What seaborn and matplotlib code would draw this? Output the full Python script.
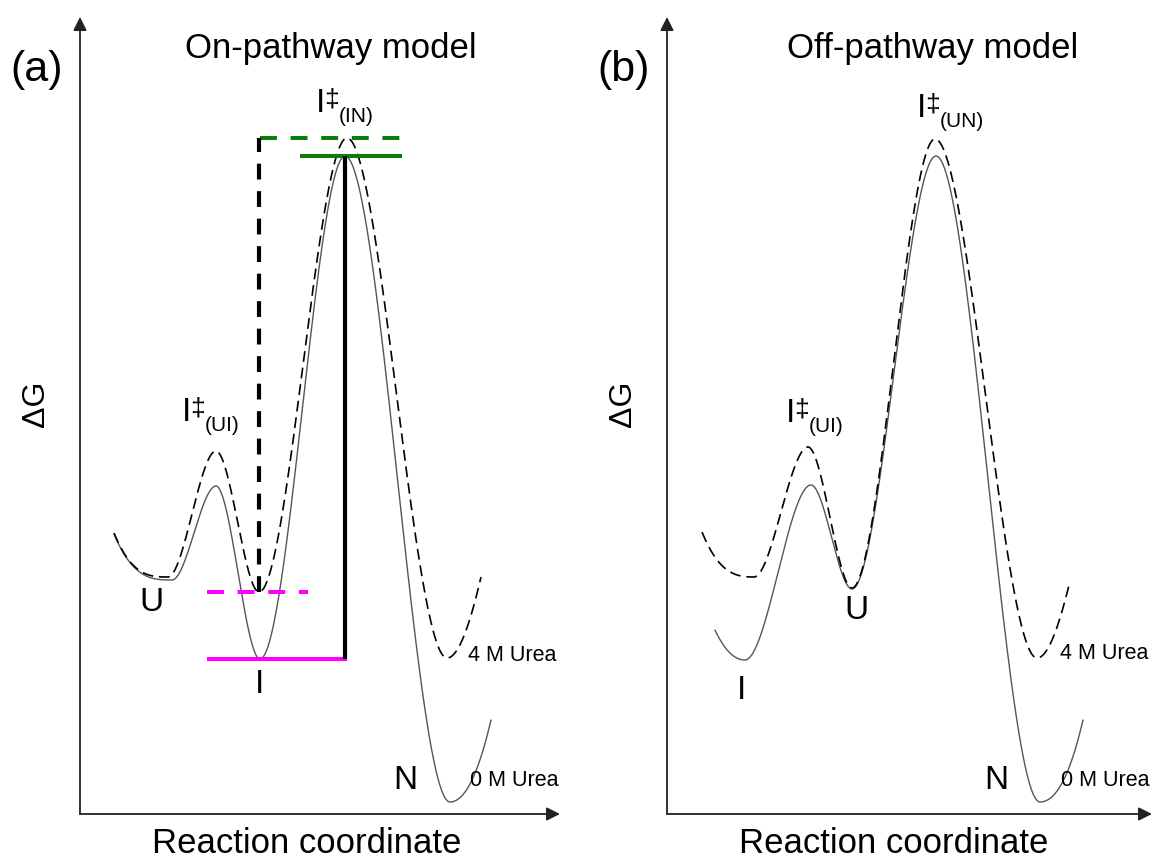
import numpy as np
import matplotlib
matplotlib.use("Agg")
import matplotlib.pyplot as plt
import seaborn as sns

# Free-energy landmarks along the reaction coordinate (arbitrary units).
# Each curve passes through its minima and barrier tops in order.
on_x_0M = [34, 92, 136, 180, 265, 370, 411]
on_g_0M = [280, 234, 328, 155, 658, 12, 94]
on_x_4M = [34, 88, 136, 179, 267, 367, 401]
on_g_4M = [281, 237, 363, 222, 676, 156, 237]

off_x_0M = [48, 78, 144, 185, 269, 373, 416]
off_g_0M = [184, 154, 329, 225, 658, 12, 94]
off_x_4M = [35, 87, 141, 185, 268, 370, 403]
off_g_4M = [282, 237, 367, 226, 675, 156, 233]

# index of the intermediate well and of the I-N barrier in the on-pathway curves
I_WELL, IN_TOP = 3, 4

panel_titles = ["On-pathway model", "Off-pathway model"]
panel_tags = ["(a)", "(b)"]


def pchip(xk, yk, xs):
    """Shape-preserving piecewise cubic Hermite curve through the landmarks."""
    xk = np.asarray(xk, float)
    yk = np.asarray(yk, float)
    h = np.diff(xk)
    d = np.diff(yk) / h
    n = len(xk)
    m = np.zeros(n)
    for k in range(1, n - 1):
        if d[k - 1] * d[k] > 0:
            w1 = 2 * h[k] + h[k - 1]
            w2 = h[k] + 2 * h[k - 1]
            m[k] = (w1 + w2) / (w1 / d[k - 1] + w2 / d[k])

    def end_slope(h0, h1, d0, d1):
        s = ((2 * h0 + h1) * d0 - h0 * d1) / (h0 + h1)
        if np.sign(s) != np.sign(d0):
            return 0.0
        if np.sign(d0) != np.sign(d1) and abs(s) > 3 * abs(d0):
            return 3 * d0
        return s

    m[0] = end_slope(h[0], h[1], d[0], d[1])
    m[-1] = end_slope(h[-1], h[-2], d[-1], d[-2])
    idx = np.clip(np.searchsorted(xk, xs) - 1, 0, n - 2)
    t = (xs - xk[idx]) / h[idx]
    h00 = 2 * t**3 - 3 * t**2 + 1
    h10 = t**3 - 2 * t**2 + t
    h01 = -2 * t**3 + 3 * t**2
    h11 = t**3 - t**2
    return (h00 * yk[idx] + h10 * h[idx] * m[idx]
            + h01 * yk[idx + 1] + h11 * h[idx] * m[idx + 1])


def energy_curve(ax, xk, gk, **kw):
    xs = np.linspace(xk[0], xk[-1], 600)
    sns.lineplot(x=xs, y=pchip(xk, gk, xs), ax=ax, sort=False,
                 estimator=None, **kw)


def barrier_label(ax, x, base, sub):
    """Transition-state label: I, a raised double dagger, a lowered subscript."""
    ax.text(x, base, "I", fontsize=24, ha="left", va="baseline")
    ax.text(x + 8, base + 6, "\u2021", fontsize=19, ha="left", va="baseline")
    ax.text(x + 23, base - 10, sub, fontsize=15, ha="left", va="baseline")


sns.set_theme(style="white")
plt.rcParams["font.family"] = ["Liberation Sans", "DejaVu Sans"]
plt.rcParams["text.color"] = "black"

W, H = 1155, 863
fig = plt.figure(figsize=(W / 100, H / 100), dpi=100)
fig.patch.set_facecolor("white")

# axes boxes in pixels: left, right, bottom, top
boxes = [(80, 560, 814, 17), (667, 1152, 814, 17)]
axes = []
for (l, r, b, t) in boxes:
    ax = fig.add_axes([l / W, 1 - b / H, (r - l) / W, (b - t) / H])
    ax.set_xlim(0, r - l)
    ax.set_ylim(0, b - t)
    ax.axis("off")
    axes.append(ax)

SOLID = dict(color="#555555", lw=1.0)
DASHED = dict(color="black", lw=1.2, linestyle=(0, (6.5, 3.5)))

for ax, tag in zip(axes, panel_tags):
    # axis arrows
    for end in [(0, 1), (1, 0)]:
        ax.annotate("", xy=end, xytext=(0, 0), xycoords="axes fraction",
                    textcoords="axes fraction",
                    arrowprops=dict(arrowstyle="-|>", color="#222222",
                                    lw=1.3, mutation_scale=20,
                                    shrinkA=0, shrinkB=0))
    ax.text(-43, 744, tag, fontsize=31, ha="center", va="center",
            clip_on=False)
    ax.text(-44, 410, "\u0394G", fontsize=23, rotation=90, ha="center",
            va="center", clip_on=False)
    ax.text(227, -29, "Reaction coordinate", fontsize=25, ha="center",
            va="center", clip_on=False)

ax_on, ax_off = axes
ax_on.text(251, 766, panel_titles[0], fontsize=25, ha="center", va="center")
ax_off.text(266, 766, panel_titles[1], fontsize=25, ha="center", va="center")

# ---- on-pathway panel ----
energy_curve(ax_on, on_x_0M, on_g_0M, **SOLID)
energy_curve(ax_on, on_x_4M, on_g_4M, **DASHED)

g_I0, g_I4 = on_g_0M[I_WELL], on_g_4M[I_WELL]
g_T0, g_T4 = on_g_0M[IN_TOP], on_g_4M[IN_TOP]
MAG, GRN = "#ff00ff", "#0a7d0a"
ax_on.hlines(g_I4, 127, 228, color=MAG, lw=2.9, linestyle=(0, (4.2, 3.4)))
ax_on.hlines(g_I0, 127, 267, color=MAG, lw=2.9)
ax_on.hlines(g_T4, 180, 322, color=GRN, lw=2.9, linestyle=(0, (4.2, 3.4)))
ax_on.hlines(g_T0, 220, 322, color=GRN, lw=2.9)
ax_on.vlines(on_x_0M[IN_TOP], g_I0, g_T0, color="black", lw=3.0)
ax_on.vlines(on_x_4M[I_WELL], g_I4, g_T4, color="black", lw=3.0,
             linestyle=(0, (3.8, 2.8)))

barrier_label(ax_on, 236, 702, "(IN)")
barrier_label(ax_on, 102, 393, "(UI)")
ax_on.text(71, 212, "U", fontsize=24, ha="center", va="center")
ax_on.text(180, 130, "I", fontsize=24, ha="center", va="center")
ax_on.text(325, 34, "N", fontsize=24, ha="center", va="center")
ax_on.text(388, 159, "4 M Urea", fontsize=15.5, ha="left", va="center")
ax_on.text(390, 34, "0 M Urea", fontsize=15.5, ha="left", va="center")

# ---- off-pathway panel ----
energy_curve(ax_off, off_x_0M, off_g_0M, **SOLID)
energy_curve(ax_off, off_x_4M, off_g_4M, **DASHED)

barrier_label(ax_off, 250, 697, "(UN)")
barrier_label(ax_off, 119, 392, "(UI)")
ax_off.text(189, 204, "U", fontsize=24, ha="center", va="center")
ax_off.text(74, 124, "I", fontsize=24, ha="center", va="center")
ax_off.text(329, 34, "N", fontsize=24, ha="center", va="center")
ax_off.text(393, 161, "4 M Urea", fontsize=15.5, ha="left", va="center")
ax_off.text(394, 34, "0 M Urea", fontsize=15.5, ha="left", va="center")

fig.savefig("out.png", dpi=100, facecolor="white")
